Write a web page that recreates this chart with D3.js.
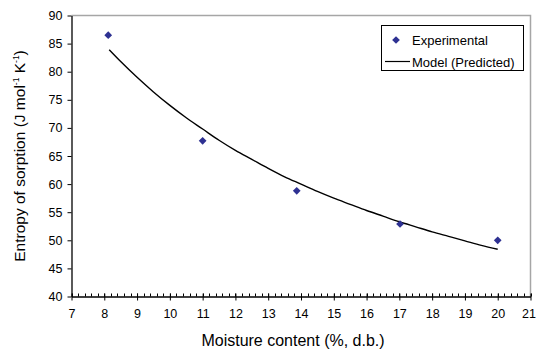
<!DOCTYPE html>
<html>
<head>
<meta charset="utf-8">
<script src="https://cdn.jsdelivr.net/npm/d3@7"></script>
<style>
  body { margin: 0; background: #fff; }
  text { font-family: "Liberation Sans", Arial, sans-serif; fill: #000; }
</style>
</head>
<body>
<script>
// experimental points
var expX = [8.12, 11.0, 13.87, 17.02, 20.0];
var expY = [86.5, 67.7, 58.8, 52.9, 50.0];

// model curve
var modelX = [8.15, 8.5, 9, 9.5, 10, 10.5, 11, 11.5, 12, 12.5, 13, 13.5, 14, 14.5, 15, 15.5, 16, 16.5, 17, 17.5, 18, 18.5, 19, 19.5, 20];
var modelY = [83.9, 81.8, 79.0, 76.4, 74.0, 71.8, 69.8, 67.8, 66.0, 64.4, 62.8, 61.3, 60.0, 58.7, 57.5, 56.4, 55.3, 54.3, 53.3, 52.4, 51.5, 50.7, 49.9, 49.1, 48.4];

var xTicks = [7, 8, 9, 10, 11, 12, 13, 14, 15, 16, 17, 18, 19, 20, 21];
var yTicks = [40, 45, 50, 55, 60, 65, 70, 75, 80, 85, 90];

var W = 536, H = 352;
var pLeft = 71.5, pRight = 530.5, pTop = 15.5, pBottom = 296.5;

var svg = d3.select("body").append("svg")
    .attr("width", W)
    .attr("height", H);

var x = d3.scaleLinear().domain([7, 21]).range([pLeft, pRight]);
var y = d3.scaleLinear().domain([40, 90]).range([pBottom, pTop]);

// frame top + right (grey)
svg.append("path")
    .attr("d", "M" + pLeft + "," + pTop + "H" + pRight + "V" + pBottom)
    .attr("fill", "none")
    .attr("stroke", "#a6a6a6")
    .attr("stroke-width", 1.5);

// minor ticks on x
var minor = d3.range(7, 21.001, 0.2);
svg.append("g").selectAll("line")
    .data(minor)
    .enter()
    .append("line")
    .attr("x1", function(d) { return Math.round(x(d)) + 0.5; })
    .attr("x2", function(d) { return Math.round(x(d)) + 0.5; })
    .attr("y1", pBottom - 3)
    .attr("y2", pBottom)
    .attr("stroke", "#000");

// x axis
var xAxis = svg.append("g")
    .attr("transform", "translate(0," + pBottom + ")")
    .call(d3.axisBottom(x).tickValues(xTicks).tickSize(4).tickSizeOuter(0).tickPadding(9));
xAxis.selectAll(".tick line").attr("y1", -3);
// last label sits at the window edge
xAxis.selectAll(".tick text").filter(function(d) { return d === 21; }).attr("dx", -2);

// y axis
var yAxis = svg.append("g")
    .attr("transform", "translate(" + pLeft + ",0)")
    .call(d3.axisLeft(y).tickValues(yTicks).tickSize(4).tickSizeOuter(0).tickPadding(5));

svg.selectAll(".domain").attr("stroke", "#000").attr("stroke-width", 1.3);
svg.selectAll(".tick text")
    .style("font-family", "Liberation Sans, Arial, sans-serif")
    .style("font-size", "12.5px");

// model line
var line = d3.line()
    .x(function(d, i) { return x(modelX[i]); })
    .y(function(d, i) { return y(modelY[i]); })
    .curve(d3.curveMonotoneX);

svg.append("path")
    .datum(modelY)
    .attr("d", line)
    .attr("fill", "none")
    .attr("stroke", "#000")
    .attr("stroke-width", 1.4);

// experimental points
var diamond = d3.symbol().type(d3.symbolSquare).size(30);
svg.append("g").selectAll("path")
    .data(expY)
    .enter()
    .append("path")
    .attr("d", diamond)
    .attr("transform", function(d, i) {
        return "translate(" + x(expX[i]) + "," + y(d) + ") rotate(45)";
    })
    .attr("fill", "#2e3192");

// legend
var lg = svg.append("g");
lg.append("rect")
    .attr("x", 381.5).attr("y", 25.5)
    .attr("width", 142).attr("height", 45)
    .attr("fill", "#fff")
    .attr("stroke", "#000")
    .attr("stroke-width", 1);
lg.append("path")
    .attr("d", diamond)
    .attr("transform", "translate(396,40) rotate(45)")
    .attr("fill", "#2e3192");
lg.append("line")
    .attr("x1", 385).attr("x2", 410)
    .attr("y1", 61.5).attr("y2", 61.5)
    .attr("stroke", "#000")
    .attr("stroke-width", 1.2);
lg.append("text")
    .attr("x", 412).attr("y", 44.5)
    .style("font-size", "13px")
    .text("Experimental");
lg.append("text")
    .attr("x", 412).attr("y", 66.5)
    .style("font-size", "13px")
    .text("Model (Predicted)");

// axis titles
svg.append("text")
    .attr("x", 293).attr("y", 346)
    .attr("text-anchor", "middle")
    .style("font-size", "16px")
    .text("Moisture content (%, d.b.)");

var yt = svg.append("text")
    .attr("transform", "translate(24.5,156) rotate(-90)")
    .attr("text-anchor", "middle")
    .style("font-size", "15.5px");
yt.append("tspan").text("Entropy of sorption (J mol");
yt.append("tspan").attr("dy", -6).style("font-size", "8.5px").text("-1");
yt.append("tspan").attr("dy", 6).text(" K");
yt.append("tspan").attr("dy", -6).style("font-size", "8.5px").text("-1");
yt.append("tspan").attr("dy", 6).text(")");
</script>
</body>
</html>
